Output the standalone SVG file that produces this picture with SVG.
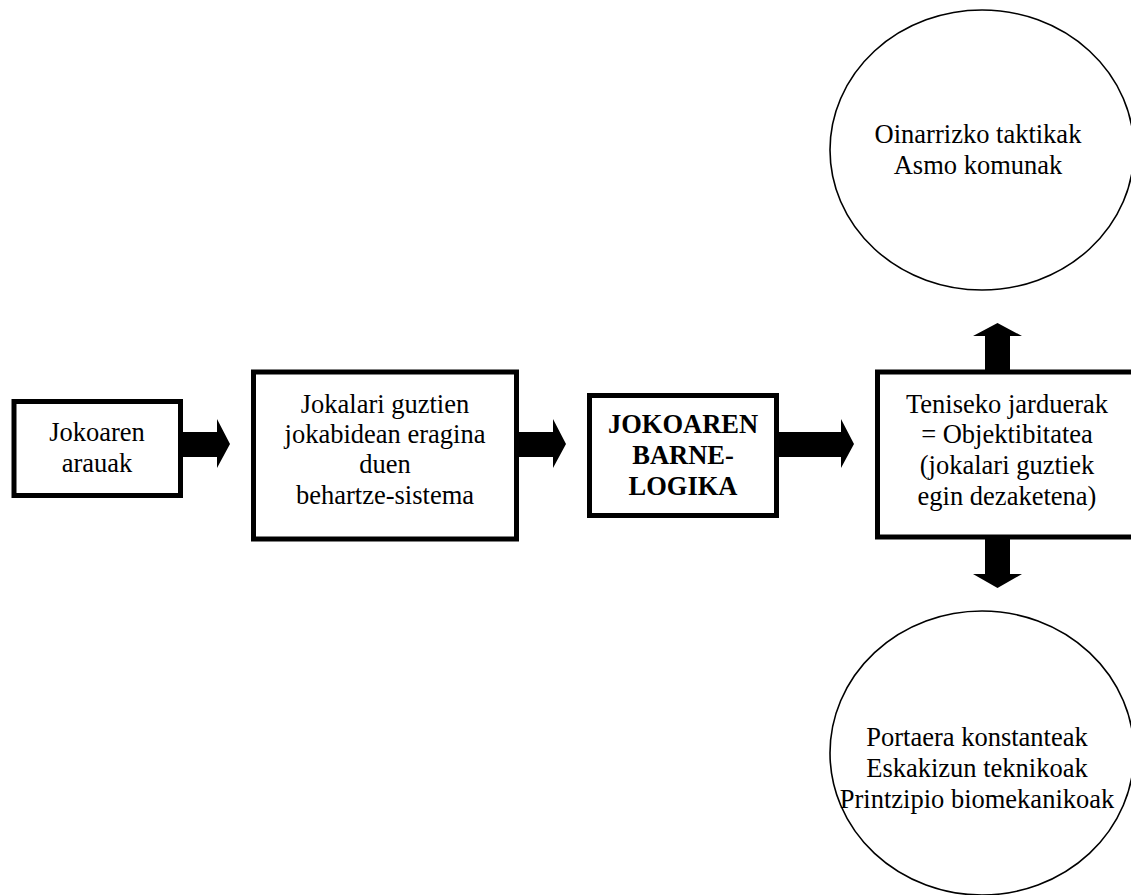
<svg xmlns="http://www.w3.org/2000/svg" width="1131" height="895" viewBox="0 0 1131 895">
  <style>
    .box { fill: #fff; stroke: #000; stroke-width: 5; }
    .oval { fill: #fff; stroke: #000; stroke-width: 1.6; }
    .lbl { font-family: 'Liberation Serif', 'Times New Roman', 'DejaVu Serif', serif; font-size: 26.5px; fill: #000; text-anchor: middle; }
    .bold { font-weight: bold; }
    .arrow { fill: #000; stroke: none; }
  </style>
  <rect x="0" y="0" width="1131" height="895" fill="#fff"/>

  <!-- block arrows linking the stages -->
  <g id="connectors">
    <polygon class="arrow" points="182,432 217,432 217,419 230,444 217,468 217,457 182,457"/>
    <polygon class="arrow" points="518,432 553,432 553,419 566,444 553,468 553,457 518,457"/>
    <polygon class="arrow" points="778,432 841,432 841,419 854,444 841,468 841,457 778,457"/>
    <polygon class="arrow" points="985,374 985,336 973,336 997.5,323 1022,336 1010,336 1010,374"/>
    <polygon class="arrow" points="985,536 985,574 973,574 997.5,588 1022,574 1010,574 1010,536"/>
  </g>

  <g id="node-arauak">
    <rect class="box" x="14" y="401.5" width="166.5" height="94"/>
    <text class="lbl" font-family="Liberation Serif, serif" x="97" y="441">Jokoaren</text>
    <text class="lbl" font-family="Liberation Serif, serif" x="97" y="472">arauak</text>
  </g>

  <g id="node-behartze">
    <rect class="box" x="253.5" y="372" width="263" height="167"/>
    <text class="lbl" font-family="Liberation Serif, serif" x="385" y="413">Jokalari guztien</text>
    <text class="lbl" font-family="Liberation Serif, serif" x="385" y="443">jokabidean eragina</text>
    <text class="lbl" font-family="Liberation Serif, serif" x="385" y="473">duen</text>
    <text class="lbl" font-family="Liberation Serif, serif" x="385" y="504">behartze-sistema</text>
  </g>

  <g id="node-barne-logika">
    <rect class="box" x="589.5" y="395.5" width="187" height="120"/>
    <text class="lbl bold" font-family="Liberation Serif, serif" x="683" y="433">JOKOAREN</text>
    <text class="lbl bold" font-family="Liberation Serif, serif" x="683" y="464">BARNE-</text>
    <text class="lbl bold" font-family="Liberation Serif, serif" x="683" y="495">LOGIKA</text>
  </g>

  <g id="node-jarduerak">
    <rect class="box" x="877.5" y="372" width="262" height="165"/>
    <text class="lbl" font-family="Liberation Serif, serif" x="1007" y="413">Teniseko jarduerak</text>
    <text class="lbl" font-family="Liberation Serif, serif" x="1007" y="443">= Objektibitatea</text>
    <text class="lbl" font-family="Liberation Serif, serif" x="1007" y="474">(jokalari guztiek</text>
    <text class="lbl" font-family="Liberation Serif, serif" x="1007" y="505">egin dezaketena)</text>
  </g>

  <g id="node-taktikak">
    <ellipse class="oval" cx="982" cy="150" rx="152" ry="140"/>
    <text class="lbl" font-family="Liberation Serif, serif" x="978" y="143">Oinarrizko taktikak</text>
    <text class="lbl" font-family="Liberation Serif, serif" x="978" y="174">Asmo komunak</text>
  </g>

  <g id="node-portaera">
    <ellipse class="oval" cx="982" cy="753" rx="152" ry="142"/>
    <text class="lbl" font-family="Liberation Serif, serif" x="977" y="746">Portaera konstanteak</text>
    <text class="lbl" font-family="Liberation Serif, serif" x="977" y="777">Eskakizun teknikoak</text>
    <text class="lbl" font-family="Liberation Serif, serif" x="977" y="808">Printzipio biomekanikoak</text>
  </g>
</svg>
